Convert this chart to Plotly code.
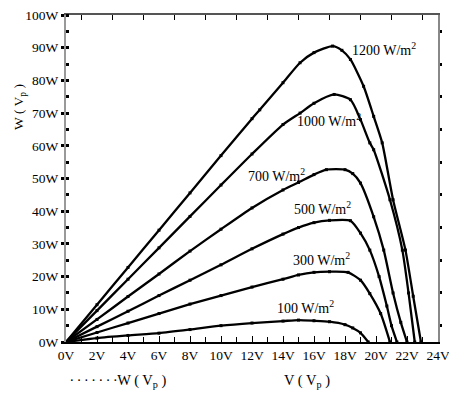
import plotly.graph_objects as go

# Irradiance curves: voltage (V) and power (W)
v1200 = [0, 2, 4, 6, 8, 10, 12, 12.5, 14, 15.1, 16, 17.2, 17.8, 18.35, 19.2, 19.85, 20.4, 21.1, 21.9, 22.4, 22.9]
w1200 = [0, 11.4, 22.8, 34.2, 45.6, 57, 68.3, 71, 79.3, 85.4, 88.5, 90.5, 89.2, 86.4, 78.2, 69, 60.9, 43.5, 28.1, 14, 0]

v1000 = [0, 2, 4, 6, 8, 10, 12, 14, 15.1, 16, 17.3, 18.35, 19.0, 19.6, 19.85, 20.9, 21.7, 22.1, 22.5]
w1000 = [0, 9.6, 19.2, 28.8, 38.4, 48, 57.5, 66.5, 70, 73, 75.7, 74.1, 68, 60.9, 58.8, 43.5, 28.1, 15, 0]

v700 = [0, 2, 4, 6, 8, 10, 12, 14, 15, 16, 16.8, 18.0, 18.5, 19.0, 19.85, 20.5, 21.1, 21.6, 22.0]
w700 = [0, 6.9, 13.9, 20.8, 27.8, 34.5, 41, 46.5, 48.8, 51.2, 52.7, 52.7, 51.5, 48.6, 38.3, 28.1, 15, 6, 0]

v500 = [0, 2, 4, 6, 8, 10, 12, 14, 15, 16, 17, 18.35, 19.0, 19.6, 20.2, 20.7, 21.0, 21.35]
w500 = [0, 4.7, 9.4, 14.2, 18.9, 23.6, 28.5, 33, 35, 36.5, 37.2, 37.1, 33.3, 28.1, 20, 11, 5, 0]

v300 = [0, 2, 4, 6, 8, 10, 12, 14, 15, 16, 17, 18.2, 19.0, 19.6, 20.3, 20.9]
w300 = [0, 2.9, 5.8, 8.7, 11.6, 14.2, 16.8, 19.2, 20.5, 21.3, 21.5, 21.3, 18.9, 14.8, 8.7, 0]

v100 = [0, 2, 4, 6, 8, 10, 12, 14, 15, 16, 17, 18, 18.5, 19, 19.5]
w100 = [0, 1.2, 2.0, 2.7, 3.8, 5.0, 5.8, 6.4, 6.7, 6.5, 6.2, 5.3, 4.3, 2.8, 0]

series = [
    ("1200 W/m<sup>2</sup>", v1200, w1200),
    ("1000 W/m<sup>2</sup>", v1000, w1000),
    ("700 W/m<sup>2</sup>", v700, w700),
    ("500 W/m<sup>2</sup>", v500, w500),
    ("300 W/m<sup>2</sup>", v300, w300),
    ("100 W/m<sup>2</sup>", v100, w100),
]

# label anchor points (left edge, vertical centre) in data units
label_v = [18.3, 14.8, 11.6, 14.6, 14.5, 13.5]
label_w = [89.5, 68, 51, 41, 25.5, 10.8]

x_ticks = list(range(0, 25, 2))
x_ticktext = [f"{t}V" for t in x_ticks]
y_ticks = list(range(0, 101, 10))
y_ticktext = [f"{t}W" for t in y_ticks]

FONT = "Liberation Serif"

fig = go.Figure()
for name, vx, wy in series:
    fig.add_trace(go.Scatter(
        x=vx, y=wy, mode="lines+markers", name=name, showlegend=False,
        line=dict(color="black", width=2.3, shape="spline", smoothing=0.6),
        marker=dict(symbol="square", size=3, color="black"),
    ))

# dummy for secondary (frame) axes
fig.add_trace(go.Scatter(x=[0], y=[0], xaxis="x2", yaxis="y2", mode="markers",
                         marker=dict(opacity=0), showlegend=False, hoverinfo="skip"))

for (name, _, _), lv, lw in zip(series, label_v, label_w):
    fig.add_annotation(x=lv, y=lw, text=name, showarrow=False, xanchor="left",
                       yanchor="middle", font=dict(family=FONT, size=14, color="black"))

fig.add_annotation(xref="paper", yref="paper", x=-0.155, y=0.795, text="W ( V<sub>p</sub> )",
                   textangle=-90, showarrow=False, font=dict(family=FONT, size=13.5, color="black"))
fig.add_annotation(xref="paper", yref="paper", x=0.715, y=-0.12, text="V ( V<sub>p</sub> )",
                   showarrow=False, yanchor="middle",
                   font=dict(family=FONT, size=14.5, color="black"))
# legend
fig.add_annotation(xref="paper", yref="paper", x=0.005, y=-0.12, xanchor="left",
                   text="\u2219 \u2219 \u2219 \u2219 \u2219 \u2219 \u2219W ( V<sub>p</sub> )",
                   showarrow=False, yanchor="middle",
                   font=dict(family=FONT, size=14.5, color="black"))

fig.update_layout(
    width=449, height=404,
    margin=dict(l=66, r=11, t=15, b=62),
    paper_bgcolor="white", plot_bgcolor="white",
    font=dict(family=FONT, size=13.5, color="black"),
    showlegend=False,
    xaxis=dict(range=[0, 24], tickvals=x_ticks, ticktext=x_ticktext, showgrid=False,
               zeroline=False, showline=True, linecolor="black", linewidth=2,
               ticks="inside", ticklen=6, tickwidth=1, tickcolor="black",
               minor=dict(dtick=1, ticks="inside", ticklen=5, tickcolor="black"),
               ticklabeloverflow="allow", automargin=False, fixedrange=True),
    yaxis=dict(range=[0, 100], tickvals=y_ticks, ticktext=y_ticktext, showgrid=False,
               zeroline=False, showline=True, linecolor="#999999", linewidth=2, mirror=True,
               ticks="outside", ticklen=3, tickwidth=3, tickcolor="black",
               minor=dict(dtick=5, ticks="inside", ticklen=3, tickwidth=3, tickcolor="black"),
               ticklabeloverflow="allow", automargin=False, fixedrange=True),
    xaxis2=dict(range=[0, 24], overlaying="x", side="top", anchor="y", showticklabels=False,
                tickvals=list(range(1, 24, 2)), ticks="inside", ticklen=5, tickcolor="black",
                showline=True, linecolor="#555555", linewidth=1.5, showgrid=False,
                zeroline=False, automargin=False, fixedrange=True),
    yaxis2=dict(range=[0, 100], overlaying="y", side="right", anchor="x", showticklabels=False,
                tickvals=list(range(5, 100, 10)), ticks="outside", ticklen=2, tickwidth=3,
                tickcolor="black", showline=True, linecolor="#888888", linewidth=1.5,
                showgrid=False, zeroline=False, automargin=False, fixedrange=True),
)

fig.write_html("out.html", config={"displayModeBar": False},
               post_script="document.body.style.margin='0';")
